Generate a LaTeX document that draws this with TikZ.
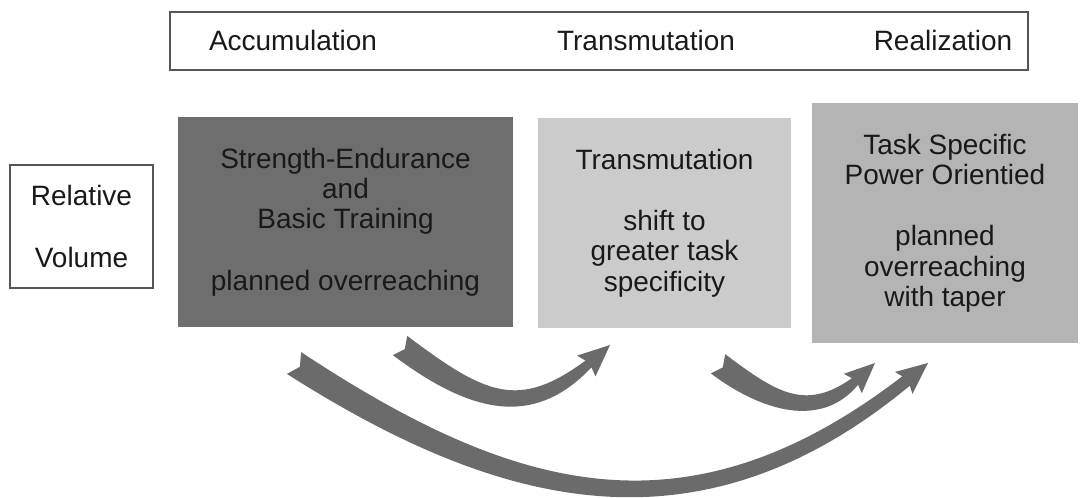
\documentclass[tikz,border=0pt]{standalone}
\usepackage{fontspec}
\setmainfont{Liberation Sans}
\usepackage{xcolor}
\definecolor{darkpanel}{RGB}{110, 110, 110}
\definecolor{lightpanel}{RGB}{203, 203, 203}
\definecolor{midpanel}{RGB}{180, 180, 180}
\definecolor{arrowgrey}{RGB}{107, 107, 107}
\definecolor{framegrey}{RGB}{85, 85, 85}
\definecolor{inkblack}{RGB}{25, 25, 25}
\usepackage{tikz}
\usetikzlibrary{arrows.meta, positioning, calc}

\begin{document}
\begin{tikzpicture}[x=0.025cm, y=-0.025cm,
    every node/.style={font=\fontsize{19.9}{21.6}\selectfont, text=inkblack, align=center, inner sep=0pt},
    whitebox/.style={draw=framegrey, line width=1.1pt, fill=white},
    panel/.style={minimum height=5.25cm},
    fatarrow/.style={fill=arrowgrey, draw=none}]
    \useasboundingbox (0,0) rectangle (1080,498);

    % phase bar
    \node[whitebox, minimum width=21.45cm, minimum height=1.45cm] (phases) at (599,41) {};
    \node (accum) at (293,41) {Accumulation};
    \node (transm) at (646,41) {Transmutation};
    \node (realiz) at (943,41) {Realization};

    \node[whitebox, minimum width=3.575cm, minimum height=3.075cm] (relvol) at (81.5,226.5) {Relative\\[22pt]Volume};

    \node[panel, fill=darkpanel, minimum width=8.375cm] (accumbox) at (345.5,222)
        {Strength-Endurance\\and\\Basic Training\\[22pt]planned overreaching};
    \node[panel, fill=lightpanel, minimum width=6.325cm] (transbox) at (664.5,223)
        {Transmutation\\[22pt]shift to\\greater task\\specificity};
    \node[panel, fill=midpanel, minimum width=6.65cm, minimum height=6cm] (realbox) at (945,223)
        {Task Specific\\Power Orientied\\[22pt]planned\\overreaching\\with taper};

    % tapered arrows
    \fill[fatarrow] (404.8,349.1) -- (407.2,335.9) .. controls (485.3,394.5) and (517.9,410.4) .. (585.5,360.6)
        -- (577.1,355.6) -- (610,345) -- (595.5,376.4) -- (591.5,367.4)
        .. controls (533.7,428.4) and (470.9,413.7) .. (392.8,355.1) -- cycle;
    \fill[fatarrow] (722.8,367.4) -- (725.2,354.2) .. controls (776.2,392.5) and (805.1,411.3) .. (851.9,378.2)
        -- (843.8,373.8) -- (875,363) -- (861.8,393.2) -- (858.1,384.8)
        .. controls (821.4,428.9) and (761.8,411.7) .. (710.8,373.4) -- cycle;
    \fill[fatarrow] (299.9,366.8) -- (301.1,352.1) .. controls (513.0,491.8) and (686.1,542.4) .. (902.3,376.3)
        -- (894.9,372.0) -- (928,363) -- (912.5,393.8) -- (909.8,385.7)
        .. controls (699.9,559.6) and (501.0,510.2) .. (286.9,373.9) -- cycle;
\end{tikzpicture}
\end{document}
